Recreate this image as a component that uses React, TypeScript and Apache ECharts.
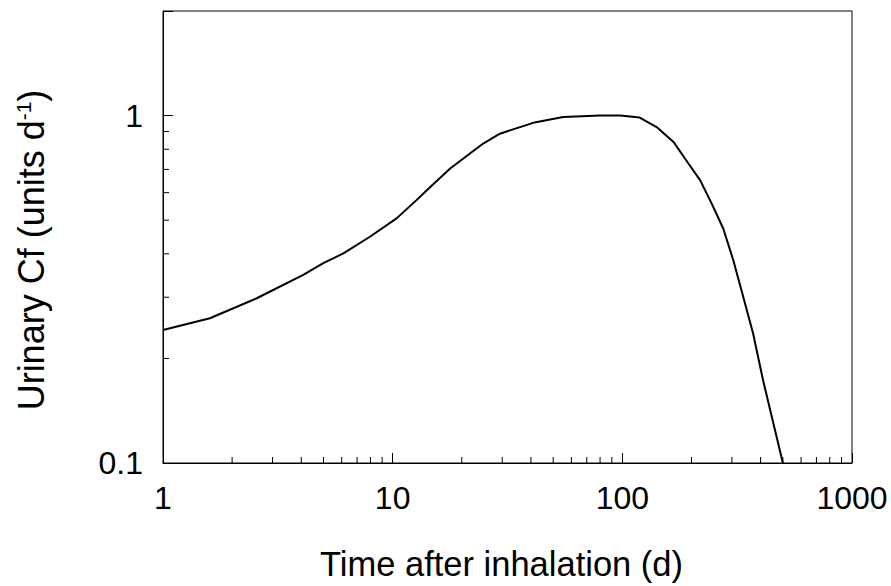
import { useEffect, useRef } from 'react';
import * as echarts from 'echarts';

// Data
const timeDays = [1, 1.6, 2.56, 4.08, 4.99, 6.1, 7.96, 10.4, 12.7, 14.5, 17.8, 21.7, 24.8, 29.3, 40.9, 55.3, 80, 98, 119, 141, 167, 194, 218, 245, 275, 304, 336, 371, 410, 500];
const urinaryCf = [0.2415, 0.261, 0.298, 0.348, 0.376, 0.401, 0.448, 0.506, 0.571, 0.621, 0.704, 0.778, 0.831, 0.887, 0.953, 0.99, 1.0, 1.0, 0.987, 0.927, 0.84, 0.728, 0.652, 0.558, 0.473, 0.384, 0.301, 0.236, 0.173, 0.1];

const xMajorLabels = [1, 10, 100, 1000];
const yMajorLabels = [0.1, 1];
const xMinorTicks = [2, 3, 4, 5, 6, 7, 8, 9, 20, 30, 40, 50, 60, 70, 80, 90, 200, 300, 400, 500, 600, 700, 800, 900];
const yMinorTicks = [0.2, 0.3, 0.4, 0.5, 0.6, 0.7, 0.8, 0.9];

const X_MIN = 1;
const X_MAX = 1000;
const Y_MIN = 0.1;
const Y_MAX = 2;

const FONT = '"Liberation Sans", Arial, Helvetica, sans-serif';

function matchLabel(v: number, list: number[]): string {
  for (const l of list) {
    if (Math.abs(v - l) / l < 1e-6) return String(l);
  }
  return '';
}

export default function App() {
  const ref = useRef<HTMLDivElement>(null);

  useEffect(() => {
    if (!ref.current) return;
    const chart = echarts.init(ref.current, null, { renderer: 'svg' });

    const option: any = {
      animation: false,
      backgroundColor: '#ffffff',
      textStyle: { fontFamily: FONT, color: '#000' },
      grid: {
        left: 163,
        right: 39,
        top: 11,
        bottom: 123,
        show: true,
        borderColor: '#000',
        borderWidth: 1,
        backgroundColor: 'transparent',
      },
      xAxis: {
        type: 'log',
        logBase: 10,
        min: X_MIN,
        max: X_MAX,
        splitLine: { show: false },
        axisLine: { show: true, lineStyle: { color: '#000', width: 1 } },
        axisTick: { show: true, inside: true, length: 10, lineStyle: { color: '#000', width: 1 } },
        axisLabel: {
          fontFamily: FONT,
          fontSize: 32,
          color: '#000',
          margin: 19,
          showMinLabel: true,
          showMaxLabel: true,
          formatter: (v: number) => matchLabel(v, xMajorLabels),
        },
        name: 'Time after inhalation (d)',
        nameLocation: 'middle',
        nameGap: 83,
        nameTextStyle: { fontFamily: FONT, fontSize: 34.5, color: '#000', padding: [0, 12, 0, 0] },
      },
      yAxis: {
        type: 'log',
        logBase: 10,
        min: Y_MIN,
        max: Y_MAX,
        splitLine: { show: false },
        axisLine: { show: true, lineStyle: { color: '#000', width: 1 } },
        axisTick: { show: true, inside: true, length: 10, lineStyle: { color: '#000', width: 1 } },
        axisLabel: {
          fontFamily: FONT,
          fontSize: 32,
          color: '#000',
          margin: 20,
          padding: [10, 0, 0, 0],
          formatter: (v: number) => matchLabel(v, yMajorLabels),
        },
      },
      graphic: [
        {
          type: 'text',
          x: 31,
          y: 250,
          rotation: Math.PI / 2,
          style: {
            text: '{a|Urinary Cf (units d}{s|-1}{a|)}',
            align: 'center',
            verticalAlign: 'middle',
            fill: '#000',
            rich: {
              a: { fontFamily: FONT, fontSize: 36, fill: '#000', color: '#000' },
              s: { fontFamily: FONT, fontSize: 21, fill: '#000', color: '#000', verticalAlign: 'top', padding: [0, 0, 14, 0] },
            },
          },
        },
      ],
      series: [
        {
          type: 'line',
          data: timeDays.map((t, i) => [t, urinaryCf[i]]),
          showSymbol: false,
          symbol: 'none',
          smooth: false,
          lineStyle: { color: '#000', width: 2 },
          z: 5,
        },
        {
          type: 'custom',
          data: xMinorTicks.map((v) => [v, Y_MIN]),
          clip: false,
          silent: true,
          renderItem: (params: any, api: any) => {
            const p = api.coord([api.value(0), api.value(1)]);
            return {
              type: 'line',
              shape: { x1: p[0], y1: p[1], x2: p[0], y2: p[1] - 6 },
              style: { stroke: '#000', lineWidth: 1 },
            };
          },
          z: 3,
        },
        {
          type: 'custom',
          data: yMinorTicks.map((v) => [X_MIN, v]),
          clip: false,
          silent: true,
          renderItem: (params: any, api: any) => {
            const p = api.coord([api.value(0), api.value(1)]);
            return {
              type: 'line',
              shape: { x1: p[0], y1: p[1], x2: p[0] + 6, y2: p[1] },
              style: { stroke: '#000', lineWidth: 1 },
            };
          },
          z: 3,
        },
      ],
    };

    chart.setOption(option);
    return () => {
      chart.dispose();
    };
  }, []);

  return (
    <div
      ref={ref}
      style={{ position: 'fixed', left: 0, top: 0, width: 891, height: 586, background: '#fff' }}
    />
  );
}
